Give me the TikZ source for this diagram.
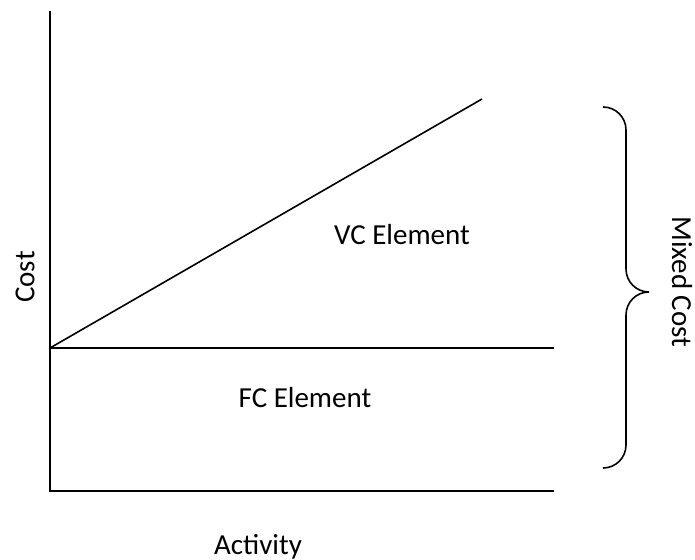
\documentclass[tikz,border=0pt]{standalone}
\usepackage{fontspec}
\setmainfont{Carlito}
\usetikzlibrary{positioning}

\tikzset{
    axisline/.style={line width=0.8pt},
    lbl/.style={font=\fontsize{14.5}{17}\selectfont, inner sep=0pt}
}

\begin{document}
\begin{tikzpicture}[x=0.5pt, y=-0.5pt]
            \useasboundingbox (0,0) rectangle (695,560);
            \coordinate (top) at (50,11);
            \coordinate (o) at (50,491);
            \coordinate (xend) at (554,491);
            \coordinate (fc) at (50,348);
            \coordinate (fcend) at (554,348);
            \coordinate (vcend) at (482,99);
            \coordinate (btop) at (603,107);
            \coordinate (btip) at (649,292);
            \coordinate (bbot) at (603,468);
            \draw[axisline] (top) -- (o) -- (xend);
            \draw[axisline] (fc) -- (fcend);
            \draw[axisline] (fc) -- (vcend);
            \draw[axisline] (btop) to[out=0, in=90] (626,130) -- (626,269) to[out=-90, in=180] (btip)
                to[out=180, in=90] (626,315) -- (626,445) to[out=-90, in=0] (bbot);
            \node[lbl] (vc) at (402,235) {VC Element};
            \node[lbl] (fcl) at (305,398) {FC Element};
            \node[lbl] (act) at (258,547) {Activity};
            \node[lbl, rotate=90] (cost) at (25,277) {Cost};
            \node[lbl, rotate=-90] (mixed) at (682,282) {Mixed Cost};
        \end{tikzpicture}
\end{document}
